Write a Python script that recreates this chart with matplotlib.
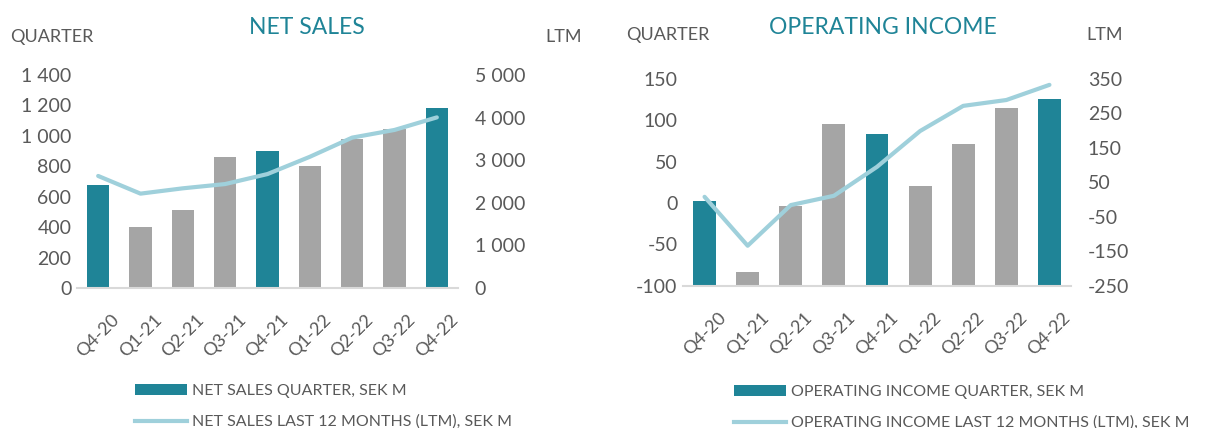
import matplotlib
matplotlib.use("Agg")
import matplotlib.pyplot as plt
from matplotlib.patches import Patch
from matplotlib.lines import Line2D
from matplotlib.ticker import FuncFormatter

plt.rcParams['font.family'] = ['Lato', 'DejaVu Sans']

quarters = ["Q4-20", "Q1-21", "Q2-21", "Q3-21", "Q4-21", "Q1-22", "Q2-22", "Q3-22", "Q4-22"]
sales_q = [678, 404, 511, 861, 899, 804, 977, 1045, 1183]
sales_ltm = [2630, 2215, 2340, 2440, 2675, 3080, 3530, 3710, 4005]
ebit_q = [2, -83, -4, 96, 84, 21, 71, 115, 126]
ebit_ltm = [8, -134, -16, 11, 95, 199, 272, 289, 333]
highlight = [True, False, False, False, True, False, False, False, True]

TEAL = "#1F8497"
GREY = "#A5A5A5"
LINE = "#9FD0DB"
TXT = "#595959"
AX = "#D9D9D9"

W, H = 1216, 428
fig = plt.figure(figsize=(W / 100, H / 100), dpi=100)


def fx(px):
    return px / W


def fy(py):
    return 1 - py / H


def space_fmt(v, pos):
    s = f"{abs(int(round(v))):,}".replace(",", " ")
    return ("-" if v < 0 else "") + s


def make_panel(left, right, top, bottom, q, ltm, ylim, ylim2, yticks, yticks2,
               title, title_x, label_y, qx, ltmx, leg_labels, leg_x, leg_y):
    ax = fig.add_axes([fx(left), fy(bottom), fx(right - left), (bottom - top) / H])
    x = list(range(len(quarters)))
    colors = [TEAL if h else GREY for h in highlight]
    base = ylim[0]
    ax.bar(x, [v - base for v in q], bottom=base, width=0.53, color=colors, zorder=2)
    ax.set_xlim(-0.5, len(quarters) - 0.5)
    ax.set_ylim(*ylim)
    for s in ["top", "right", "left"]:
        ax.spines[s].set_visible(False)
    ax.spines["bottom"].set_color(AX)
    ax.spines["bottom"].set_linewidth(1.5)
    ax.set_yticks(yticks)
    ax.yaxis.set_major_formatter(FuncFormatter(space_fmt))
    ax.set_xticks(x)
    ax.set_xticklabels(quarters, rotation=45, ha="center", va="top",
                       fontsize=13, color=TXT)
    ax.tick_params(axis="both", length=0, colors=TXT)
    ax.tick_params(axis="y", labelsize=14, pad=4)
    ax.tick_params(axis="x", pad=17)

    ax2 = ax.twinx()
    ax2.plot(x, ltm, color=LINE, lw=3, zorder=3, solid_capstyle="round")
    ax2.set_ylim(*ylim2)
    ax2.set_yticks(yticks2)
    ax2.yaxis.set_major_formatter(FuncFormatter(space_fmt))
    for s in ["top", "right", "left", "bottom"]:
        ax2.spines[s].set_visible(False)
    ax2.tick_params(axis="y", length=0, colors=TXT, labelsize=14, pad=12)

    fig.text(fx(title_x), fy(27), title, ha="center", va="center",
             fontsize=16.5, color=TEAL)
    fig.text(fx(qx), fy(label_y), "QUARTER", ha="left", va="center",
             fontsize=13, color=TXT)
    fig.text(fx(ltmx), fy(label_y), "LTM", ha="left", va="center",
             fontsize=13, color=TXT)

    handles = [Patch(facecolor=TEAL, edgecolor="none"),
               Line2D([0], [0], color=LINE, lw=3)]
    fig.legend(handles, leg_labels, loc="upper left",
               bbox_to_anchor=(fx(leg_x), fy(leg_y)), frameon=False,
               fontsize=11.5, labelcolor=TXT, handlelength=3.25,
               handleheight=0.65, handletextpad=0.35, labelspacing=1.05,
               borderaxespad=0, borderpad=0)


make_panel(77, 458, 75, 288, sales_q, sales_ltm, (0, 1400), (0, 5000),
           list(range(0, 1401, 200)), list(range(0, 5001, 1000)),
           "NET SALES", 307, 37, 10, 545,
           ["NET SALES QUARTER, SEK M", "NET SALES LAST 12 MONTHS (LTM), SEK M"],
           135, 384)

make_panel(683, 1071, 79, 285.7, ebit_q, ebit_ltm, (-100, 150), (-250, 350),
           list(range(-100, 151, 50)), list(range(-250, 351, 100)),
           "OPERATING INCOME", 883, 35, 626, 1086,
           ["OPERATING INCOME QUARTER, SEK M",
            "OPERATING INCOME LAST 12 MONTHS (LTM), SEK M"],
           734, 385)

fig.savefig("out.png", dpi=100)
